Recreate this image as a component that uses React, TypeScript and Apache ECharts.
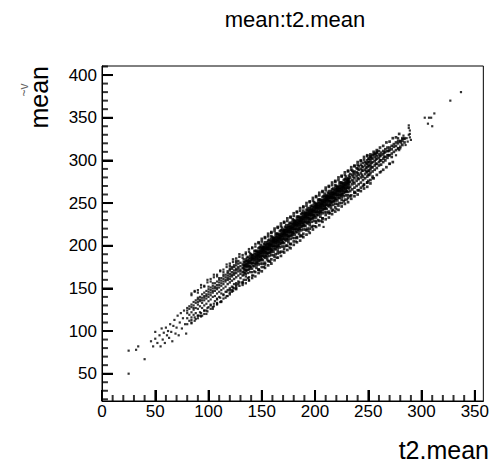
import React, { useEffect, useRef } from "react";
import * as echarts from "echarts";

const FONT = '"Liberation Sans", Arial, Helvetica, sans-serif';

const titleText = "mean:t2.mean";
const xTitle = "t2.mean";
const yTitle = "mean";

const xMajor = [0, 50, 100, 150, 200, 250, 300, 350];
const yMajor = [50, 100, 150, 200, 250, 300, 350, 400];
const xRange = [0, 358];
const yRange = [18, 410.6];

// sparse low tail (x, y)
const lowTail: number[][] = [
  [25, 50], [25, 77], [32, 78], [34, 82], [40, 67], [46, 88], [48, 82], [50, 91], [50, 99], [52, 86],
  [54, 95], [55, 82], [56, 103], [57, 90], [58, 98], [59, 86], [60, 104], [61, 95], [62, 100], [63, 92],
  [64, 108], [65, 99], [66, 88], [67, 106], [68, 113], [69, 97], [70, 104], [71, 118], [72, 95], [73, 110],
  [74, 121], [75, 103], [76, 115], [77, 124], [78, 108], [79, 97],
];

// lower band, columns: [x, ys]
const bandLow: [number, number[]][] = [
  [80, [121, 115, 127, 108, 124]],
  [82, [126, 119, 112, 129]],
  [84, [128, 122, 131, 116, 109]],
  [86, [130, 125, 134, 119, 127]],
  [88, [133, 127, 136, 121, 114]],
  [90, [131, 137, 126, 139, 118, 134]],
  [92, [135, 140, 129, 122, 137]],
  [94, [139, 133, 143, 127, 118, 136]],
  [96, [141, 136, 145, 130, 124, 139]],
  [98, [143, 138, 147, 132, 120, 141]],
  [100, [146, 140, 149, 135, 128, 143, 152]],
  [102, [148, 142, 151, 137, 131, 145]],
  [104, [150, 145, 153, 140, 126, 147, 156]],
  [106, [152, 147, 156, 141, 135, 150]],
  [108, [154, 149, 158, 144, 138, 151, 133]],
  [110, [157, 151, 160, 146, 140, 154, 162]],
  [112, [159, 153, 162, 148, 135, 156, 144]],
  [114, [161, 155, 164, 150, 143, 158, 166]],
  [116, [163, 158, 166, 152, 146, 160, 139]],
  [118, [165, 160, 168, 155, 148, 162, 170]],
  [120, [167, 161, 171, 157, 150, 164, 145, 173]],
  [122, [169, 164, 173, 159, 152, 166, 175, 148]],
  [124, [171, 166, 175, 161, 155, 168, 177, 150]],
  [126, [173, 168, 177, 163, 156, 171, 180, 152]],
  [128, [175, 170, 179, 165, 158, 173, 182, 155]],
  [130, [172, 167, 176, 162, 180, 170]],
  [132, [174, 169, 178, 165, 157]],
];

// dense core, columns: [x, ys]
const bandCore: [number, number[]][] = [
  [133, [174, 169, 178, 166, 181, 172, 160, 176, 184]],
  [134, [178, 172, 181, 168, 176]],
  [135, [177, 172, 182, 167, 179, 175, 164, 184, 170]],
  [136, [176, 182, 171, 179, 186]],
  [137, [177, 181, 172, 183, 168, 187, 175, 179, 162]],
  [138, [182, 176, 185, 172, 180]],
  [139, [182, 173, 185, 177, 188, 169, 180, 175, 191]],
  [140, [180, 186, 175, 183, 190]],
  [141, [180, 186, 173, 188, 178, 183, 169, 189, 185]],
  [142, [186, 180, 189, 176, 184]],
  [143, [184, 179, 188, 176, 191, 182, 170, 186, 194]],
  [144, [184, 190, 179, 187, 194]],
  [145, [187, 182, 192, 177, 189, 185, 174, 194, 180]],
  [146, [190, 184, 193, 180, 188]],
  [147, [187, 191, 182, 193, 178, 197, 185, 189, 172]],
  [148, [188, 194, 183, 191, 198]],
  [149, [192, 183, 195, 187, 198, 179, 190, 185, 201]],
  [150, [194, 188, 197, 184, 192]],
  [151, [190, 196, 183, 198, 188, 193, 179, 199, 195]],
  [152, [192, 198, 187, 195, 202]],
  [153, [194, 189, 198, 186, 201, 192, 180, 196, 204]],
  [154, [198, 192, 201, 188, 196]],
  [155, [197, 192, 202, 187, 199, 195, 184, 204, 190]],
  [156, [196, 202, 191, 199, 206]],
  [157, [197, 201, 192, 203, 188, 207, 195, 199, 182]],
  [158, [202, 196, 205, 192, 200]],
  [159, [202, 193, 205, 197, 208, 189, 200, 195, 211]],
  [160, [200, 206, 195, 203, 210]],
  [161, [200, 206, 193, 208, 198, 203, 189, 209, 205]],
  [162, [206, 200, 209, 196, 204]],
  [163, [204, 199, 208, 196, 211, 202, 190, 206, 214]],
  [164, [204, 210, 199, 207, 214]],
  [165, [207, 202, 212, 197, 209, 205, 194, 214, 200]],
  [166, [210, 204, 213, 200, 208]],
  [167, [207, 211, 202, 213, 198, 217, 205, 209, 192]],
  [168, [208, 214, 203, 211, 218]],
  [169, [212, 203, 215, 207, 218, 199, 210, 205, 221]],
  [170, [214, 208, 217, 204, 212]],
  [171, [210, 216, 203, 218, 208, 213, 199, 219, 215]],
  [172, [212, 218, 207, 215, 222]],
  [173, [214, 209, 218, 206, 221, 212, 200, 216, 224]],
  [174, [218, 212, 221, 208, 216]],
  [175, [217, 212, 222, 207, 219, 215, 204, 224, 210]],
  [176, [216, 222, 211, 219, 226]],
  [177, [217, 221, 212, 223, 208, 227, 215, 219, 202]],
  [178, [222, 216, 225, 212, 220]],
  [179, [222, 213, 225, 217, 228, 209, 220, 215, 231]],
  [180, [220, 226, 215, 223, 230]],
  [181, [220, 226, 213, 228, 218, 223, 209, 229, 225]],
  [182, [226, 220, 229, 216, 224]],
  [183, [224, 219, 228, 216, 231, 222, 210, 226, 234]],
  [184, [224, 230, 219, 227, 234]],
  [185, [227, 222, 232, 217, 229, 225, 214, 234, 220]],
  [186, [230, 224, 233, 220, 228]],
  [187, [227, 231, 222, 233, 218, 237, 225, 229, 212]],
  [188, [228, 234, 223, 231, 238]],
  [189, [232, 223, 235, 227, 238, 219, 230, 225, 241]],
  [190, [234, 228, 237, 224, 232]],
  [191, [230, 236, 223, 238, 228, 233, 219, 239, 235]],
  [192, [232, 238, 227, 235, 242]],
  [193, [234, 229, 238, 226, 241, 232, 220, 236, 244]],
  [194, [238, 232, 241, 228, 236]],
  [195, [237, 232, 242, 227, 239, 235, 224, 244, 230]],
  [196, [236, 242, 231, 239, 246]],
  [197, [237, 241, 232, 243, 228, 247, 235, 239, 222]],
  [198, [242, 236, 245, 232, 240]],
  [199, [242, 233, 245, 237, 248, 229, 240, 235, 251]],
  [200, [240, 246, 235, 243, 250]],
  [201, [240, 246, 233, 248, 238, 243, 229, 249, 245]],
  [202, [246, 240, 249, 236, 244]],
  [203, [244, 239, 248, 236, 251, 242, 230, 246, 254]],
  [204, [244, 250, 239, 247, 254]],
  [205, [247, 242, 252, 237, 249, 245, 234, 254, 240]],
  [206, [250, 244, 253, 240, 248]],
  [207, [247, 251, 242, 253, 238, 257, 245, 249, 232]],
  [208, [248, 254, 243, 251, 258]],
  [209, [252, 243, 255, 247, 258, 239, 250, 245, 261]],
  [210, [254, 248, 257, 244, 252]],
  [211, [250, 256, 243, 258, 248, 253, 239, 259, 255]],
  [212, [252, 258, 247, 255, 262]],
  [213, [254, 249, 258, 246, 261, 252, 240, 256, 264]],
  [214, [258, 252, 261, 248, 256]],
  [215, [257, 252, 262, 247, 259, 255, 244, 264, 250]],
  [216, [256, 262, 251, 259, 266]],
  [217, [257, 261, 252, 263, 248, 267, 255, 259, 242]],
  [218, [262, 256, 265, 252, 260]],
  [219, [262, 253, 265, 257, 268, 249, 260, 255, 271]],
  [220, [260, 266, 255, 263, 270]],
  [221, [260, 266, 253, 268, 258, 263, 249, 269, 265]],
  [222, [266, 260, 269, 256, 264]],
  [223, [264, 259, 268, 256, 271, 262, 250, 266, 274]],
  [224, [264, 270, 259, 267, 274]],
  [225, [267, 262, 272, 257, 269, 265, 254, 274, 260]],
  [226, [270, 264, 273, 260, 268]],
  [227, [267, 271, 262, 273, 258, 277, 265, 269, 252]],
  [228, [268, 274, 263, 271, 278]],
  [229, [272, 263, 275, 267, 278, 259, 270, 265, 281]],
  [230, [274, 268, 277, 264, 272]],
  [231, [270, 276, 263, 278, 268, 273, 259, 279, 275]],
  [232, [272, 278, 267, 275, 282]],
];

// upper band, columns: [x, ys]
const bandHigh: [number, number[]][] = [
  [233, [275, 269, 280, 264, 284, 258]],
  [235, [277, 272, 283, 266, 288]],
  [236, [281, 275, 286]],
  [237, [279, 273, 284, 268, 287, 262]],
  [239, [282, 276, 286, 270, 291]],
  [240, [285, 279, 290]],
  [241, [283, 278, 289, 272, 293, 265]],
  [243, [285, 280, 290, 274, 295]],
  [244, [288, 283, 293]],
  [245, [288, 281, 292, 277, 297, 270]],
  [247, [289, 284, 294, 279, 298]],
  [248, [291, 287, 297]],
  [249, [292, 286, 296, 281, 300, 274]],
  [250, [294, 288, 298, 283, 302, 276]],
  [251, [293, 288, 298, 283, 302]],
  [252, [295, 290, 300, 285, 304]],
  [253, [297, 292, 303]],
  [254, [298, 292, 302, 287, 306, 281]],
  [256, [299, 294, 304, 289, 308]],
  [257, [301, 296, 307]],
  [258, [302, 296, 305, 291, 309]],
  [260, [303, 298, 307, 294, 311]],
  [261, [305, 300]],
  [262, [306, 300, 309, 295]],
  [264, [307, 302, 311, 298]],
  [265, [309, 304]],
  [266, [310, 304, 313, 300]],
  [268, [311, 306, 315, 303]],
  [269, [311, 306]],
  [270, [312, 306, 315]],
  [272, [313, 308, 317, 304]],
  [274, [316, 310, 319]],
  [276, [317, 312, 321]],
  [278, [320, 314, 323]],
  [280, [322, 316]],
  [282, [323, 326, 318]],
  [284, [326, 321]],
];

// outer edges of the band, columns: [x, ys]
const bandEdges: [number, number[]][] = [
  [84, [142, 144, 113, 110]],
  [87, [146, 147, 116, 112]],
  [90, [148, 145, 118, 115]],
  [93, [151, 154, 121, 117]],
  [96, [153, 152, 124, 120]],
  [99, [157, 160, 127, 123]],
  [102, [161, 158, 130, 126]],
  [105, [163, 166, 132, 129]],
  [108, [166, 164, 137, 132]],
  [111, [170, 171, 139, 134]],
  [114, [172, 169, 142, 138]],
  [117, [175, 178, 146, 141]],
  [120, [179, 176, 148, 143]],
  [123, [181, 184, 151, 147]],
  [126, [185, 182, 154, 149]],
  [129, [187, 190, 157, 153]],
  [132, [186, 189, 157, 154]],
  [135, [190, 192, 160, 156]],
  [138, [193, 196, 163, 159]],
  [141, [197, 198, 165, 162]],
  [144, [199, 202, 169, 164]],
  [147, [203, 204, 172, 168]],
  [150, [205, 208, 175, 170]],
  [153, [209, 210, 178, 174]],
  [156, [211, 214, 182, 177]],
  [159, [215, 216, 184, 179]],
  [162, [217, 220, 187, 183]],
  [165, [221, 222, 191, 186]],
  [168, [223, 226, 193, 188]],
  [171, [227, 228, 196, 192]],
  [174, [229, 232, 200, 195]],
  [177, [233, 234, 202, 197]],
  [180, [235, 238, 205, 201]],
  [183, [239, 240, 209, 204]],
  [186, [241, 244, 211, 206]],
  [189, [245, 246, 214, 210]],
  [192, [247, 250, 218, 213]],
  [195, [251, 252, 220, 215]],
  [198, [253, 256, 223, 219]],
  [201, [257, 258, 227, 222]],
  [204, [259, 262, 229, 224]],
  [207, [263, 264, 232, 228]],
  [210, [265, 268, 236, 231]],
  [213, [269, 270, 238, 233]],
  [216, [271, 274, 241, 237]],
  [219, [275, 276, 245, 240]],
  [222, [277, 280, 247, 242]],
  [225, [281, 282, 250, 246]],
  [228, [283, 286, 254, 249]],
  [231, [287, 288, 256, 251]],
  [234, [289, 292, 259, 255]],
  [237, [293, 294, 263, 258]],
  [240, [295, 298, 265, 260]],
  [243, [299, 300, 268, 264]],
  [246, [301, 304, 272, 267]],
  [249, [305, 306, 274, 269]],
  [252, [307, 305, 277, 273]],
  [255, [310, 307, 279]],
  [258, [312, 310, 283]],
  [261, [315, 286]],
  [264, [317, 289]],
  [267, [321, 292]],
  [270, [322, 296]],
  [273, [326, 298]],
  [276, [327]],
  [279, [331]],
];

// sparse points under the band (x, y)
const lowerFringe: number[][] = [
  [92, 118], [98, 124], [104, 128], [108, 131], [112, 134], [118, 141], [122, 146], [126, 150],
  [132, 156], [138, 160], [142, 165], [148, 171], [152, 175], [158, 181], [164, 186], [170, 193],
  [176, 198], [182, 205], [188, 211], [194, 217], [200, 223], [208, 222], [206, 229], [214, 238],
  [220, 243], [230, 254], [238, 262], [246, 271], [254, 279], [262, 287], [270, 296],
];

// sparse high tail (x, y)
const highTail: number[][] = [
  [276, 306], [278, 314], [279, 312], [280, 314], [280, 323], [282, 325], [284, 325], [286, 326],
  [287, 322], [289, 327], [290, 324], [288, 330], [289, 331], [288, 338], [288, 341], [289, 335],
  [278, 326], [281, 320], [283, 329], [285, 318], [303, 350], [307, 350], [309, 350], [312, 355],
  [306, 343], [310, 340], [327, 370], [337, 380],
];

function columnsToPoints(cols: [number, number[]][], lo: number, hi: number): number[][] {
  const out: number[][] = [];
  cols.forEach(([x, ys]) => {
    if (x >= lo && x < hi) ys.forEach((y) => out.push([x, y]));
  });
  return out;
}

function minorTicks(lo: number, hi: number, majors: number[]): number[] {
  const out: number[] = [];
  for (let v = Math.ceil(lo / 10) * 10; v <= hi; v += 10) {
    if (!majors.includes(v)) out.push(v);
  }
  return out;
}

const GRID_W = 387;
const GRID_H = 335;

export default function App() {
  const ref = useRef<HTMLDivElement>(null);

  useEffect(() => {
    if (!ref.current) return;
    const chart = echarts.init(ref.current, undefined, { renderer: "svg" });

    const densePoints = [
      ...columnsToPoints(bandCore, 145, 1000),
      ...columnsToPoints(bandHigh, 0, 1000),
      ...columnsToPoints(bandEdges, 145, 1000),
    ];
    const mediumPoints = [
      ...columnsToPoints(bandCore, 0, 145),
      ...columnsToPoints(bandLow, 118, 1000),
      ...columnsToPoints(bandEdges, 118, 145),
    ];
    const lightPoints = [
      ...columnsToPoints(bandLow, 0, 118),
      ...columnsToPoints(bandEdges, 0, 118),
      ...lowTail,
      ...lowerFringe,
      ...highTail,
    ];

    const MAJOR = 11;
    const MINOR = 6;
    const TW = 2;
    const TICK = { color: "#000", width: 2 };

    const xMinor = minorTicks(xRange[0], xRange[1], xMajor);
    const yMinor = minorTicks(yRange[0], yRange[1], yMajor);

    // half a tick length, in axis units, so each tick symbol sits just inside the frame
    const yPerPx = (yRange[1] - yRange[0]) / GRID_H;
    const xPerPx = (xRange[1] - xRange[0]) / GRID_W;

    const tickScatter = (data: number[][], size: number[]) => ({
      type: "scatter",
      data,
      symbol: "rect",
      symbolSize: size,
      itemStyle: { color: "#000" },
      clip: false,
    });

    chart.setOption({
      animation: false,
      backgroundColor: "#fff",
      grid: {
        left: 102,
        top: 66,
        width: GRID_W,
        height: GRID_H,
        show: true,
        borderColor: "#000",
        borderWidth: 1,
      },
      xAxis: {
        type: "value",
        min: xRange[0],
        max: xRange[1],
        position: "bottom",
        axisLine: { show: true, lineStyle: { color: "#000" } },
        splitLine: { show: false },
        axisTick: { show: true, inside: true, length: MAJOR, customValues: xMajor, lineStyle: TICK },
        axisLabel: { show: true, customValues: xMajor, margin: 2, fontSize: 17, fontFamily: FONT, color: "#000" },
      },
      yAxis: {
        type: "value",
        min: yRange[0],
        max: yRange[1],
        position: "left",
        axisLine: { show: true, lineStyle: { color: "#000" } },
        splitLine: { show: false },
        axisTick: { show: true, inside: true, length: MAJOR, customValues: yMajor, lineStyle: TICK },
        axisLabel: { show: true, customValues: yMajor, margin: 5, fontSize: 17, fontFamily: FONT, color: "#000" },
      },
      graphic: [
        {
          type: "text",
          x: 295,
          y: 19,
          style: { text: titleText, fontSize: 22, fontFamily: FONT, fill: "#000", align: "center", verticalAlign: "middle" },
        },
        {
          type: "text",
          x: 489,
          y: 450,
          style: { text: xTitle, fontSize: 25, fontFamily: FONT, fill: "#000", align: "right", verticalAlign: "middle" },
        },
        {
          type: "text",
          x: 51,
          y: 66,
          rotation: Math.PI / 2,
          style: { text: yTitle, fontSize: 25, fontFamily: FONT, fill: "#000", align: "right", verticalAlign: "bottom" },
        },
        {
          type: "text",
          x: 24,
          y: 90,
          rotation: Math.PI / 2,
          style: { text: "~v", fontSize: 12, fontFamily: FONT, fill: "#666", align: "center", verticalAlign: "middle" },
        },
      ],
      series: [
        {
          type: "scatter",
          data: densePoints,
          symbol: "rect",
          symbolSize: 2.7,
          itemStyle: { color: "#000" },
        },
        {
          type: "scatter",
          data: mediumPoints,
          symbol: "rect",
          symbolSize: 2.4,
          itemStyle: { color: "#000" },
        },
        {
          type: "scatter",
          data: lightPoints,
          symbol: "rect",
          symbolSize: 2.2,
          itemStyle: { color: "#000" },
        },
        tickScatter(xMajor.map((v) => [v, yRange[0] + (MAJOR / 2) * yPerPx]), [TW, MAJOR]),
        tickScatter(xMinor.map((v) => [v, yRange[0] + (MINOR / 2) * yPerPx]), [TW, MINOR]),
        tickScatter(yMajor.map((v) => [xRange[0] + (MAJOR / 2) * xPerPx, v]), [MAJOR, TW]),
        tickScatter(yMinor.map((v) => [xRange[0] + (MINOR / 2) * xPerPx, v]), [MINOR, TW]),
      ],
    });

    return () => chart.dispose();
  }, []);

  return (
    <div
      ref={ref}
      style={{ position: "fixed", left: 0, top: 0, width: 492, height: 467, background: "#fff" }}
    />
  );
}
